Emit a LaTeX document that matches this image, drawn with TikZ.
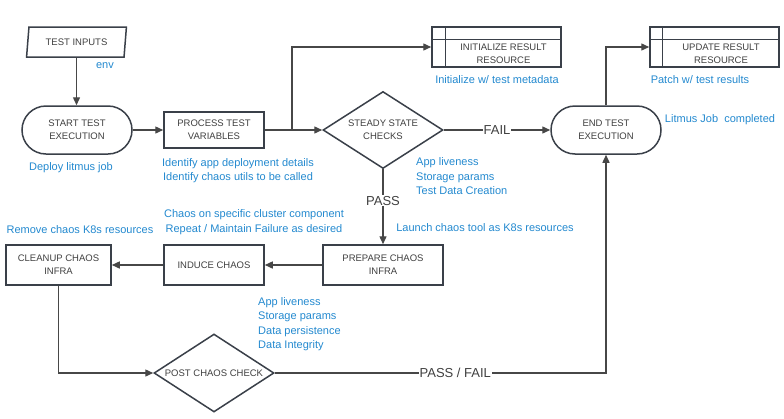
\documentclass[tikz,border=0pt]{standalone}
\usepackage{fontspec}
\setmainfont{Liberation Sans}
\usetikzlibrary{shapes.geometric,shapes.misc,arrows.meta}
\definecolor{boxc}{HTML}{3A4049}
\definecolor{linec}{HTML}{474747}
\definecolor{txtc}{HTML}{404040}
\definecolor{bluec}{HTML}{2389CF}
\tikzset{
  shp/.style={draw=boxc, line width=1.5pt, fill=white, inner sep=0pt, text=txtc, align=center, font=\fontsize{9.5}{13}\selectfont},
  tx/.style={text=txtc, align=center, font=\fontsize{9.5}{13}\selectfont, inner sep=0pt},
  rectbox/.style={shp, rectangle},
  stadium/.style={shp, rounded rectangle, minimum width=110pt, minimum height=48pt},
  dia/.style={shp, diamond, minimum width=120pt, minimum height=77pt},
  conn/.style={draw=linec, line width=1.4pt},
  arr/.style={conn, -{Triangle[length=8pt,width=7pt]}},
  lbl/.style={fill=white, text=txtc, font=\fontsize{13}{15}\selectfont, inner sep=1pt},
  note/.style={text=bluec, font=\fontsize{11}{14.5}\selectfont, inner sep=0pt},
}
\begin{document}
\begin{tikzpicture}[x=1pt,y=-1pt]
\useasboundingbox (0,0) rectangle (784,418);

% nodes
\node[shp, trapezium, trapezium left angle=77, trapezium right angle=103, trapezium stretches=true, minimum width=100pt, minimum height=30pt] (ti) at (76.5,42) {TEST INPUTS};
\node[stadium] (st) at (77,130) {START TEST\\EXECUTION};
\node[rectbox, minimum width=100pt, minimum height=36pt] (pt) at (214,130) {PROCESS TEST\\VARIABLES};
\node[dia] (ss) at (383,130) {};
\node[tx] (sst) at (ss.center) {STEADY STATE\\CHECKS};
\node[stadium] (et) at (606,130) {END TEST\\EXECUTION};

\node[rectbox, minimum width=129pt, minimum height=40pt] (ir) at (496.5,47) {};
\draw[draw=boxc, line width=1.5pt] ([xshift=14pt]ir.north west) -- ([xshift=14pt]ir.south west);
\draw[draw=boxc, line width=1.5pt] ([yshift=-13pt]ir.north west) -- ([yshift=-13pt]ir.north east);
\node[tx] (irt) at (503.5,54) {INITIALIZE RESULT\\RESOURCE};

\node[rectbox, minimum width=129pt, minimum height=40pt] (ur) at (714.5,47) {};
\draw[draw=boxc, line width=1.5pt] ([xshift=13pt]ur.north west) -- ([xshift=13pt]ur.south west);
\draw[draw=boxc, line width=1.5pt] ([yshift=-13pt]ur.north west) -- ([yshift=-13pt]ur.north east);
\node[tx] (urt) at (721,54) {UPDATE RESULT\\RESOURCE};

\node[rectbox, minimum width=120pt, minimum height=40pt] (pc) at (383,265) {PREPARE CHAOS\\INFRA};
\node[rectbox, minimum width=100pt, minimum height=40pt] (ic) at (214,265) {INDUCE CHAOS};
\node[rectbox, minimum width=105pt, minimum height=40pt] (cc) at (58.5,265) {CLEANUP CHAOS\\INFRA};
\node[dia, minimum width=120pt, minimum height=78pt] (pcc) at (214,373) {};
\node[tx] (pcct) at (pcc.center) {POST CHAOS CHECK};

% notes
\node[note] (n1) at (105,66) {env};
\node[note] (n2) at (71,168) {Deploy litmus job};
\node[note, align=center] (n3) at (238,170.5) {Identify app deployment details\\Identify chaos utils to be called};
\node[note] (n4) at (497,80) {Initialize w/ test metadata};
\node[note] (n5) at (700,80) {Patch w/ test results};
\node[note] (n6) at (720,120) {Litmus Job\ \ completed};
\node[note, align=left, anchor=west] (n7) at (416,176.5) {App liveness\\Storage params\\Test Data Creation};
\node[note] (n8) at (485,228) {Launch chaos tool as K8s resources};
\node[note] (n9) at (80,230) {Remove chaos K8s resources};
\node[note, align=center] (n10) at (254,222) {Chaos on specific cluster component\\Repeat / Maintain Failure as desired};
\node[note, align=left, anchor=west] (n11) at (258,324) {App liveness\\Storage params\\Data persistence\\Data Integrity};

% connectors
\coordinate (br) at (292,130);
\draw[arr] (ti.south) -- (ti.south |- st.north);
\draw[arr] (st.east) -- (pt.west);
\draw[arr] (pt.east) -- (ss.west);
\draw[arr] (br) |- (ir.west);
\draw[arr] (ss.east) -- node[lbl] {FAIL} (et.west);
\draw[arr] (et.north) |- (ur.west);
\draw[arr] (ss.south) -- node[lbl, pos=0.42] {PASS} (pc.north);
\draw[arr] (pc.west) -- (ic.east);
\draw[arr] (ic.west) -- (cc.east);
\draw[arr] (cc.south) |- (pcc.west);
\draw[arr] (pcc.east) -- node[lbl, pos=0.545] {PASS / FAIL} (pcc.east -| et.south) -- (et.south);
\end{tikzpicture}
\end{document}
